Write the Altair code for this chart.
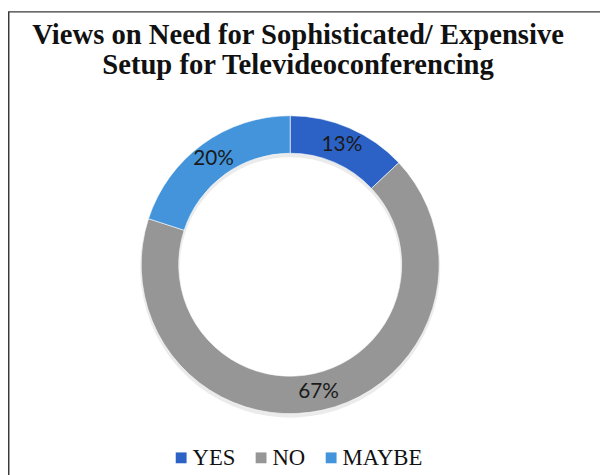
import altair as alt
import pandas as pd

categories = ["YES", "NO", "MAYBE"]
values = [13, 67, 20]
labels = ["13%", "67%", "20%"]
colors = ["#2C62C6", "#969696", "#4394DA"]
title_lines = ["Views on Need for Sophisticated/ Expensive", "Setup for Televideoconferencing"]

df = pd.DataFrame({"cat": categories, "value": values, "label": labels, "idx": [0, 1, 2]})

W, H = 600, 470
CX, CY = 286, 257
R_OUT, R_IN = 151, 113

base = alt.Chart(df)

theta = alt.Theta("value:Q", stack=True)
order = alt.Order("idx:Q")

shadow = base.mark_arc(outerRadius=R_OUT + 1, innerRadius=R_IN - 1, color="#000000", opacity=0.08).encode(
    theta=theta, order=order, x=alt.value(CX), y=alt.value(CY + 3)
)

ring = base.mark_arc(outerRadius=R_OUT, innerRadius=R_IN, stroke="#ffffff", strokeWidth=0.6).encode(
    theta=theta,
    order=order,
    color=alt.Color(
        "cat:N",
        scale=alt.Scale(domain=categories, range=colors),
        legend=alt.Legend(
            title=None,
            orient="none",
            direction="horizontal",
            legendX=164,
            legendY=441,
            symbolType="square",
            symbolSize=121,
            symbolStrokeWidth=0,
            labelFont="Liberation Serif",
            labelFontSize=23,
            labelColor="#111111",
            labelOffset=0,
            columnPadding=14,
        ),
    ),
    x=alt.value(CX),
    y=alt.value(CY),
)

text = base.mark_text(radius=(R_OUT + R_IN) / 2, font="Lato", fontSize=21, color="#1a1a1a", baseline="middle", align="center").encode(
    theta=theta, order=order, text="label:N", x=alt.value(CX), y=alt.value(CY)
)

t1 = alt.Chart(pd.DataFrame({"t": [title_lines[0]]})).mark_text(
    font="Liberation Serif", fontWeight="bold", fontSize=29, color="#111111", baseline="alphabetic", align="center"
).encode(text="t:N", x=alt.value(294), y=alt.value(33))

t2 = alt.Chart(pd.DataFrame({"t": [title_lines[1]]})).mark_text(
    font="Liberation Serif", fontWeight="bold", fontSize=29, color="#111111", baseline="alphabetic", align="center"
).encode(text="t:N", x=alt.value(294), y=alt.value(64))

border = alt.Chart(pd.DataFrame({"a": [0]})).mark_rect(fill=None, stroke="#3a3a3a", strokeWidth=1.5).encode(
    x=alt.value(0.75), x2=alt.value(W + 20), y=alt.value(0.75), y2=alt.value(H + 20)
)

chart = alt.layer(border, shadow, ring, text, t1, t2).properties(
    width=W, height=H, padding=0, autosize=alt.AutoSizeParams(type="none")
).configure_view(stroke=None)

chart.save("out.html", embed_options={"renderer": "svg", "actions": False})
